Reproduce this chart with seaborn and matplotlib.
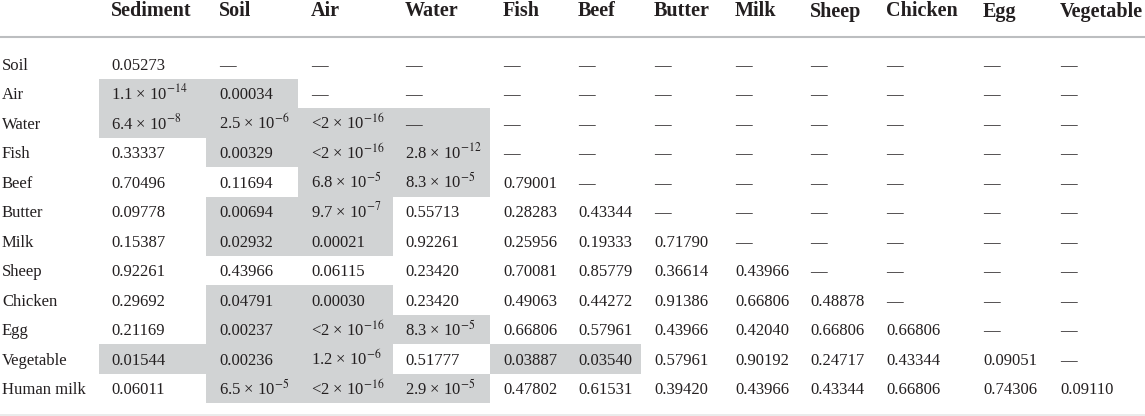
import numpy as np
import pandas as pd
import matplotlib
matplotlib.use("Agg")
import matplotlib.pyplot as plt
from matplotlib.colors import ListedColormap
import seaborn as sns

# p-values of pairwise comparisons (lower triangle), 0.0 means "<2 x 10^-16"
columns = ["Sediment", "Soil", "Air", "Water", "Fish", "Beef", "Butter",
           "Milk", "Sheep", "Chicken", "Egg", "Vegetable"]
rows = ["Soil", "Air", "Water", "Fish", "Beef", "Butter", "Milk", "Sheep",
        "Chicken", "Egg", "Vegetable", "Human milk"]

soil = [0.05273]
air = [1.1e-14, 0.00034]
water = [6.4e-8, 2.5e-6, 0.0]
fish = [0.33337, 0.00329, 0.0, 2.8e-12]
beef = [0.70496, 0.11694, 6.8e-5, 8.3e-5, 0.79001]
butter = [0.09778, 0.00694, 9.7e-7, 0.55713, 0.28283, 0.43344]
milk = [0.15387, 0.02932, 0.00021, 0.92261, 0.25956, 0.19333, 0.71790]
sheep = [0.92261, 0.43966, 0.06115, 0.23420, 0.70081, 0.85779, 0.36614,
         0.43966]
chicken = [0.29692, 0.04791, 0.00030, 0.23420, 0.49063, 0.44272, 0.91386,
           0.66806, 0.48878]
egg = [0.21169, 0.00237, 0.0, 8.3e-5, 0.66806, 0.57961, 0.43966, 0.42040,
       0.66806, 0.66806]
vegetable = [0.01544, 0.00236, 1.2e-6, 0.51777, 0.03887, 0.03540, 0.57961,
             0.90192, 0.24717, 0.43344, 0.09051]
human_milk = [0.06011, 6.5e-5, 0.0, 2.9e-5, 0.47802, 0.61531, 0.39420,
              0.43966, 0.43344, 0.66806, 0.74306, 0.09110]

row_values = [soil, air, water, fish, beef, butter, milk, sheep, chicken,
              egg, vegetable, human_milk]
extra_shaded = [("Water", "Water")]
alpha = 0.05

# layout (pixels of the 1145x416 picture)
W, H = 1145, 416
col_edges = [99, 206, 298, 393, 490, 566, 641, 722, 798, 874, 970, 1048, 1145]
text_x = [111, 219, 311, 405, 503, 578, 654, 735, 810, 886, 983, 1060]
body_top, body_bottom = 49, 403
GRAY = "#d1d3d4"
TEXT = "#231f20"


def fmt(v):
    if v is None or np.isnan(v):
        return "\u2014"
    if v == 0:
        return "<2 \u00d7 10$^{-16}$"
    if v < 1e-4:
        m, e = f"{v:.1e}".split("e")
        return f"{m} \u00d7 10$^{{{int(e)}}}$"
    return f"{v:.5f}"


vals = np.full((len(rows), len(columns)), np.nan)
for i, r in enumerate(row_values):
    vals[i, :len(r)] = r
table = pd.DataFrame(vals, index=rows, columns=columns)
shade = (table < alpha).astype(float)
for r, c in extra_shaded:
    shade.loc[r, c] = 1.0

sns.set_theme(style="white")
plt.rcParams["font.family"] = ["Liberation Serif", "DejaVu Serif"]
plt.rcParams["mathtext.fontset"] = "stix"

fig = plt.figure(figsize=(W / 100, H / 100), dpi=100)
ax = fig.add_axes([col_edges[0] / W, 1 - body_bottom / H,
                   (col_edges[-1] - col_edges[0]) / W,
                   (body_bottom - body_top) / H])
sns.heatmap(shade, ax=ax, cmap=ListedColormap(["white", GRAY]), vmin=0, vmax=1,
            cbar=False, xticklabels=False, yticklabels=False, linewidths=0)

idx = np.arange(len(col_edges))


def fwd(x):
    return np.interp(x, idx, col_edges)


def inv(x):
    return np.interp(x, col_edges, idx)


# uneven column widths through a piecewise-linear x scale
ax.set_xscale("function", functions=(fwd, inv))
ax.set_xlim(0, len(columns))
ax.set_ylim(len(rows), 0)
for s in ax.spines.values():
    s.set_visible(False)

row_h = (body_bottom - body_top) / len(rows)
base_off = 0.71
header_y = (16.5 - body_top) / row_h

for j, c in enumerate(columns):
    ax.text(inv(text_x[j]), header_y, c, fontsize=14.5, fontweight="bold",
            color=TEXT, ha="left", va="baseline", clip_on=False)
    for i in range(len(rows)):
        ax.text(inv(text_x[j]), i + base_off, fmt(table.iloc[i, j]),
                fontsize=12, color=TEXT, ha="left", va="baseline")

ytr = ax.get_yaxis_transform()
x0 = (2 - col_edges[0]) / (col_edges[-1] - col_edges[0])
xl = -col_edges[0] / (col_edges[-1] - col_edges[0])
for i, r in enumerate(rows):
    ax.text(x0, i + base_off, r, fontsize=12, color=TEXT, ha="left",
            va="baseline", transform=ytr, clip_on=False)

ax.plot([xl, 1], [(37 - body_top) / row_h] * 2, color="#bcbec0", lw=1.5,
        transform=ytr, clip_on=False)
ax.plot([xl, 1], [(414.5 - body_top) / row_h] * 2, color="#e6e7e8", lw=1.2,
        transform=ytr, clip_on=False)

fig.savefig("out.png", dpi=100)
